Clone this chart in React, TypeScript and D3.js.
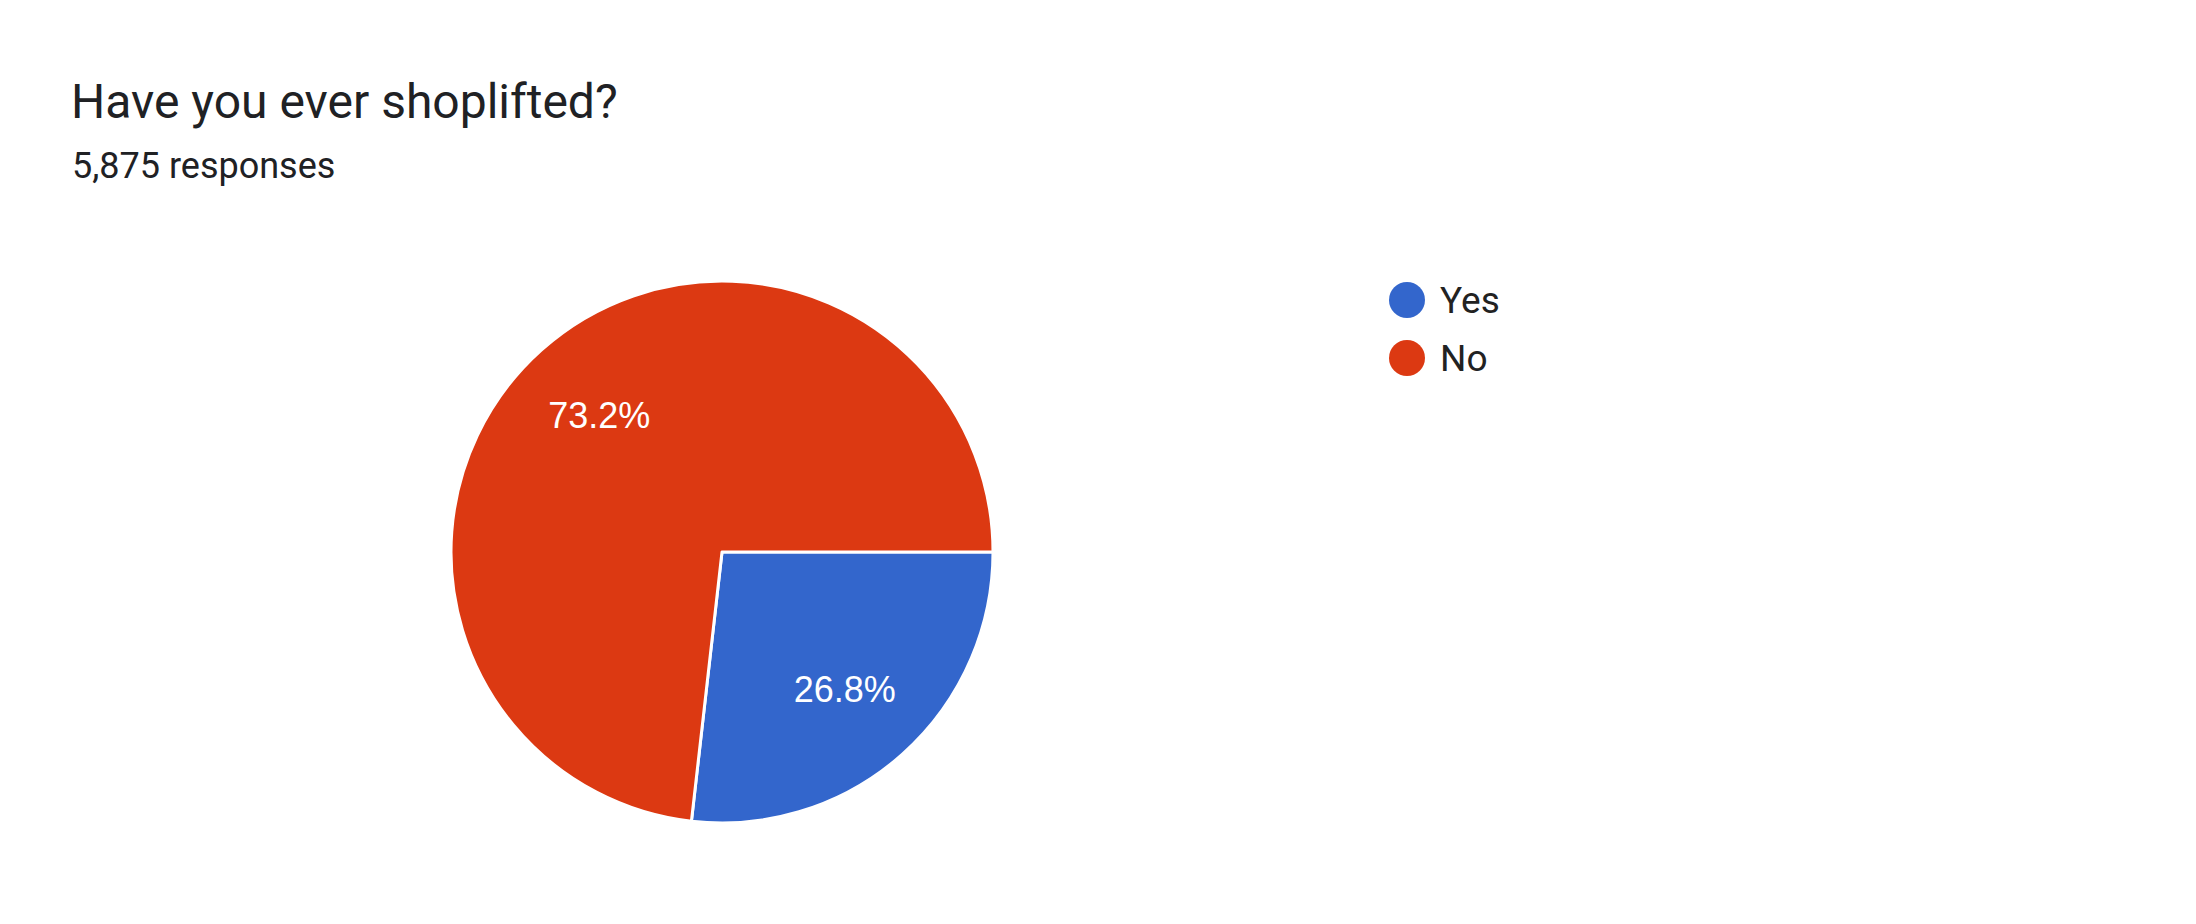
import React from "react";
import * as d3 from "d3";

const categories = ["Yes", "No"];
const values = [26.8, 73.2];
const colors = ["#3366cc", "#dc3912"];
const titleText = "Have you ever shoplifted?";
const subtitleText = "5,875 responses";

export default function App() {
  const W = 2196, H = 924;
  const cx = 722, cy = 552, r = 271;
  const pie = d3.pie<number>().sort(null).startAngle(Math.PI / 2).endAngle(Math.PI / 2 + 2 * Math.PI);
  const arcs = pie(values);
  const arc = d3.arc<d3.PieArcDatum<number>>().innerRadius(0).outerRadius(r);
  const labelArc = d3.arc<d3.PieArcDatum<number>>().innerRadius(r * 0.68).outerRadius(r * 0.68);
  const total = d3.sum(values);
  const legendY = d3.scalePoint<string>().domain(categories).range([300, 358]);
  return (
    <svg width={W} height={H} style={{ position: "absolute", left: 0, top: 0, background: "#fff" }}>
      <text x={71} y={118} fontFamily="Roboto" fontSize={48} fill="#202124">{titleText}</text>
      <text x={72} y={178} fontFamily="Roboto" fontSize={36} fill="#202124">{subtitleText}</text>
      <g transform={`translate(${cx},${cy})`}>
        {arcs.map((a, i) => (
          <path key={i} d={arc(a) || ""} fill={colors[i]} stroke="#fff" strokeWidth={3} strokeLinejoin="round" />
        ))}
        {arcs.map((a, i) => {
          const [lx, ly] = labelArc.centroid(a);
          return (
            <text key={i} x={lx} y={ly} dy="0.36em" textAnchor="middle" fontFamily="'Liberation Sans', Arial" fontSize={36} fill="#fff">
              {((values[i] / total) * 100).toFixed(1) + "%"}
            </text>
          );
        })}
      </g>
      {categories.map((c, i) => (
        <g key={c}>
          <circle cx={1407} cy={legendY(c)!} r={18} fill={colors[i]} />
          <text x={1440} y={legendY(c)!} dy="0.36em" fontFamily="Roboto" fontSize={37} fill="#222">{c}</text>
        </g>
      ))}
    </svg>
  );
}
